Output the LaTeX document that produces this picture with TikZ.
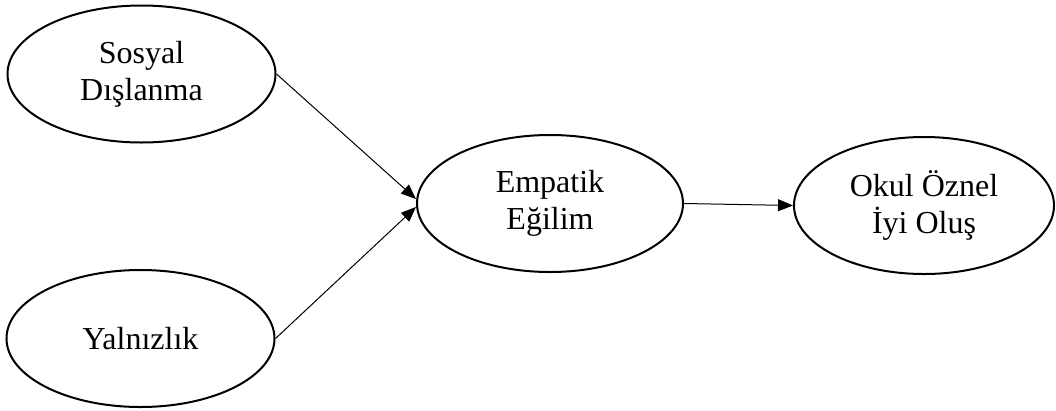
\documentclass[tikz,border=0pt]{standalone}
\usepackage{fontspec}
\setmainfont{Liberation Serif}
\usetikzlibrary{shapes.geometric,arrows.meta}
\begin{document}
\begin{tikzpicture}[x=1pt,y=-1pt,
  latent/.style={ellipse,draw=black,line width=2pt,inner sep=0pt,
    minimum width=#1,minimum height=137pt,align=center,
    font=\fontsize{32}{37}\selectfont},
  latent/.default=268pt,
  arr/.style={draw=black,line width=1pt,-{Triangle[length=15pt,width=12pt]}}]
\useasboundingbox (0,0) rectangle (1056,410);
\node[latent] (s) at (141.5,74) {Sosyal\\Dışlanma};
\node[latent] (y) at (140.5,338.5) {Yalnızlık};
\node[latent=266pt] (e) at (550,203.5) {Empatik\\Eğilim};
\node[latent=260pt] (o) at (924,205.5) {Okul Öznel\\İyi Oluş};
\draw[arr] (s.east) -- ([yshift=4.5pt]e.west);
\draw[arr] (y.east) -- ([yshift=-3.5pt]e.west);
\draw[arr] (e.east) -- (o.west);
\end{tikzpicture}
\end{document}
